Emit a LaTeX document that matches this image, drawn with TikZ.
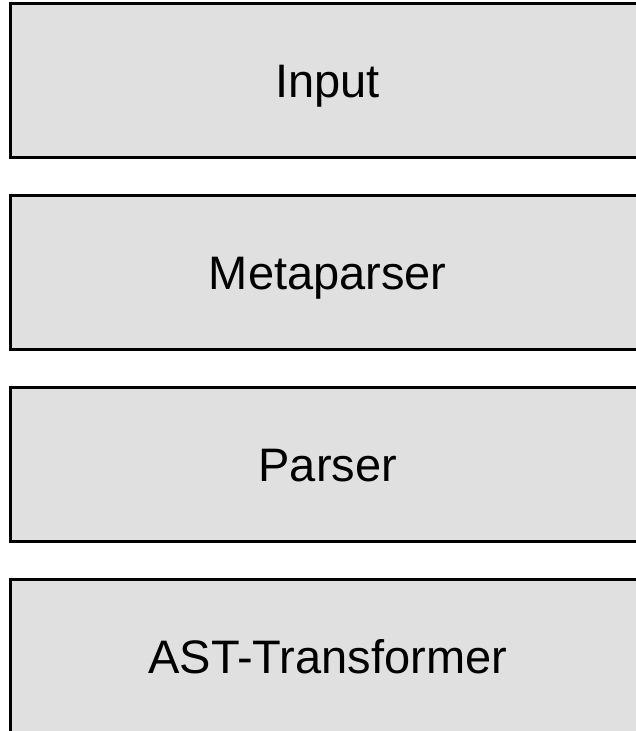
\documentclass[tikz,border=0pt]{standalone}
\usepackage{fontspec}
\setmainfont{Liberation Sans}
\usetikzlibrary{positioning}

\definecolor{boxgray}{RGB}{224,224,224}

\begin{document}
\begin{tikzpicture}[x=1pt,y=-1pt,
  stage/.style={draw=black, fill=boxgray, line width=3pt, inner sep=0pt,
    minimum width=634.5pt, minimum height=154pt,
    text height=33.6pt, text depth=0pt,
    font=\fontsize{47}{56}\selectfont}]

\useasboundingbox (0,0) rectangle (636,731);
\clip (0,0) rectangle (636,731);

\node[stage] (input) at (327.75,80.5) {Input};
\node[stage] (metaparser) at (327.75,272.5) {Metaparser};
\node[stage] (parser) at (327.75,464.5) {Parser};
\node[stage] (ast) at (327.75,656.5) {AST-Transformer};

\end{tikzpicture}
\end{document}
